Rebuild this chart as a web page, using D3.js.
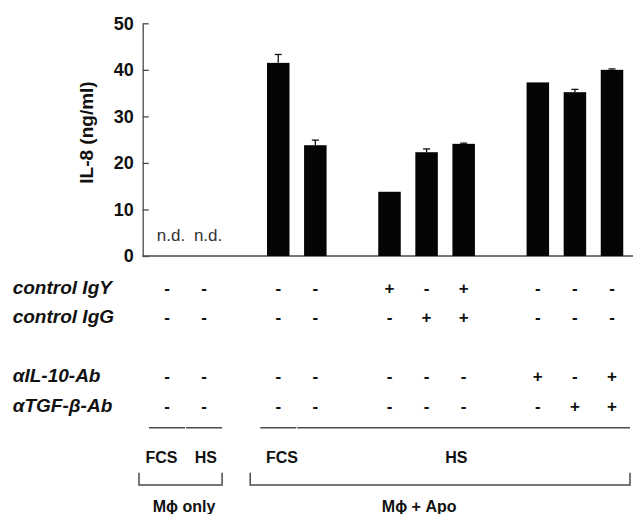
<!DOCTYPE html>
<html>
<head>
<meta charset="utf-8">
<script src="https://cdn.jsdelivr.net/npm/d3@7"></script>
<style>
  body { margin: 0; background: #fff; }
  svg { display: block; font-family: "Liberation Sans", Arial, sans-serif; }
</style>
</head>
<body>
<svg id="chart" width="633" height="514"></svg>
<script>
// conditions, in order of the columns
const categories = ["Mϕ FCS", "Mϕ HS", "Apo FCS", "Apo HS", "HS IgY", "HS IgG", "HS IgY+IgG", "HS αIL-10", "HS αTGF-β", "HS αIL-10+αTGF-β"];
// column slot (gaps between the blocks)
const slots = [0, 1, 3, 4, 6, 7, 8, 10, 11, 12];
// IL-8 (ng/ml); null = not detected
const il8 = [null, null, 41.5, 23.8, 13.8, 22.3, 24.1, 37.3, 35.2, 40.0];
const il8Err = [null, null, 1.8, 1.1, 0, 0.7, 0.15, 0, 0.6, 0.2];
const yTicks = [0, 10, 20, 30, 40, 50];

const rowLabels = ["control IgY", "control IgG", "αIL-10-Ab", "αTGF-β-Ab"];
const controlIgY = ["-", "-", "-", "-", "+", "-", "+", "-", "-", "-"];
const controlIgG = ["-", "-", "-", "-", "-", "+", "+", "-", "-", "-"];
const antiIL10 = ["-", "-", "-", "-", "-", "-", "-", "+", "-", "+"];
const antiTGF = ["-", "-", "-", "-", "-", "-", "-", "-", "+", "+"];

const serumLabels = ["FCS", "HS", "FCS", "HS"];
const serumSpans = [[0, 0], [1, 1], [3, 3], [4, 12]];
const cellLabels = ["Mϕ only", "Mϕ + Apo"];
const cellSpans = [[0, 1], [3, 12]];

const svg = d3.select("#chart");

const x = d3.scaleLinear().domain([0, 12]).range([167, 612]);
const y = d3.scaleLinear().domain([0, 50]).range([256, 23.3]);
const axisX = 142.7;
const barW = 22.5;
const ink = "#111";
const lineCol = "#4a4a4a";

// y axis
const yAxisG = svg.append("g")
  .attr("transform", `translate(${axisX},0)`)
  .call(d3.axisLeft(y).tickValues(yTicks).tickSizeInner(-6).tickSizeOuter(0).tickPadding(9));
yAxisG.select(".domain").attr("stroke", lineCol).attr("stroke-width", 1.3);
yAxisG.selectAll(".tick line").attr("stroke", lineCol).attr("stroke-width", 1.3);
yAxisG.selectAll(".tick text")
  .attr("fill", ink)
  .style("font-size", "18px")
  .style("font-weight", "bold")
  .style("font-family", "Liberation Sans, Arial, sans-serif");

// baseline
svg.append("line")
  .attr("x1", axisX).attr("x2", 633)
  .attr("y1", y(0)).attr("y2", y(0))
  .attr("stroke", lineCol).attr("stroke-width", 1.3);

svg.append("text")
  .attr("transform", `translate(86,132.5) rotate(-90)`)
  .attr("text-anchor", "middle")
  .attr("dominant-baseline", "central")
  .style("font-size", "19px")
  .style("font-weight", "bold")
  .attr("fill", ink)
  .text("IL-8 (ng/ml)");

const data = categories.map((c, i) => ({ c, slot: slots[i], v: il8[i], e: il8Err[i] }));

// bars
svg.selectAll("rect.bar")
  .data(data.filter(d => d.v != null))
  .enter().append("rect")
  .attr("class", "bar")
  .attr("x", d => x(d.slot) - barW / 2)
  .attr("width", barW)
  .attr("y", d => y(d.v))
  .attr("height", d => y(0) - y(d.v))
  .attr("fill", "#050505");

// error bars
const errG = svg.selectAll("g.err")
  .data(data.filter(d => d.v != null && d.e > 0))
  .enter().append("g").attr("class", "err");
errG.append("line")
  .attr("x1", d => x(d.slot)).attr("x2", d => x(d.slot))
  .attr("y1", d => y(d.v)).attr("y2", d => y(d.v + d.e))
  .attr("stroke", ink).attr("stroke-width", 1.3);
errG.append("line")
  .attr("x1", d => x(d.slot) - 3.5).attr("x2", d => x(d.slot) + 3.5)
  .attr("y1", d => y(d.v + d.e)).attr("y2", d => y(d.v + d.e))
  .attr("stroke", ink).attr("stroke-width", 1.3);

// n.d.
svg.selectAll("text.nd")
  .data(data.filter(d => d.v == null))
  .enter().append("text")
  .attr("class", "nd")
  .attr("x", d => x(d.slot) + 4)
  .attr("y", 240.5)
  .attr("text-anchor", "middle")
  .style("font-size", "17px")
  .attr("fill", "#333")
  .text("n.d.");

// treatment table
const rows = [controlIgY, controlIgG, antiIL10, antiTGF];
const rowY = [293.5, 322.5, 381.5, 411.5];

rows.forEach((signs, r) => {
  svg.append("text")
    .attr("x", 12.7)
    .attr("y", rowY[r])
    .style("font-size", "19px")
    .style("font-weight", "bold")
    .style("font-style", "italic")
    .attr("fill", ink)
    .text(rowLabels[r]);

  svg.selectAll(null)
    .data(signs.map((s, i) => ({ s, slot: slots[i] })))
    .enter().append("text")
    .attr("x", d => x(d.slot))
    .attr("y", rowY[r])
    .attr("text-anchor", "middle")
    .style("font-size", "17px")
    .style("font-weight", "bold")
    .attr("fill", ink)
    .text(d => d.s);
});

// serum group lines and labels
const serumLabelAt = [-0.15, 1.05, 3.1, 7.8];
serumSpans.forEach((span, i) => {
  svg.append("line")
    .attr("x1", x(span[0]) - 18).attr("x2", x(span[1]) + 18)
    .attr("y1", 427.7).attr("y2", 427.7)
    .attr("stroke", lineCol).attr("stroke-width", 1.5);
  svg.append("text")
    .attr("x", x(serumLabelAt[i]))
    .attr("y", 463)
    .attr("text-anchor", "middle")
    .style("font-size", "16px")
    .style("font-weight", "bold")
    .attr("fill", ink)
    .text(serumLabels[i]);
});

// cell brackets
const cellLabelAt = [0.46, 6.8];
cellSpans.forEach((span, i) => {
  const x0 = x(span[0]) - 28, x1 = x(span[1]) + 18;
  svg.append("path")
    .attr("d", `M${x0},472.7V485H${x1}V472.7`)
    .attr("fill", "none")
    .attr("stroke", lineCol).attr("stroke-width", 1.5);
  svg.append("text")
    .attr("x", x(cellLabelAt[i]))
    .attr("y", 511.5)
    .attr("text-anchor", "middle")
    .style("font-size", "16px")
    .style("font-weight", "bold")
    .attr("fill", ink)
    .text(cellLabels[i]);
});
</script>
</body>
</html>
